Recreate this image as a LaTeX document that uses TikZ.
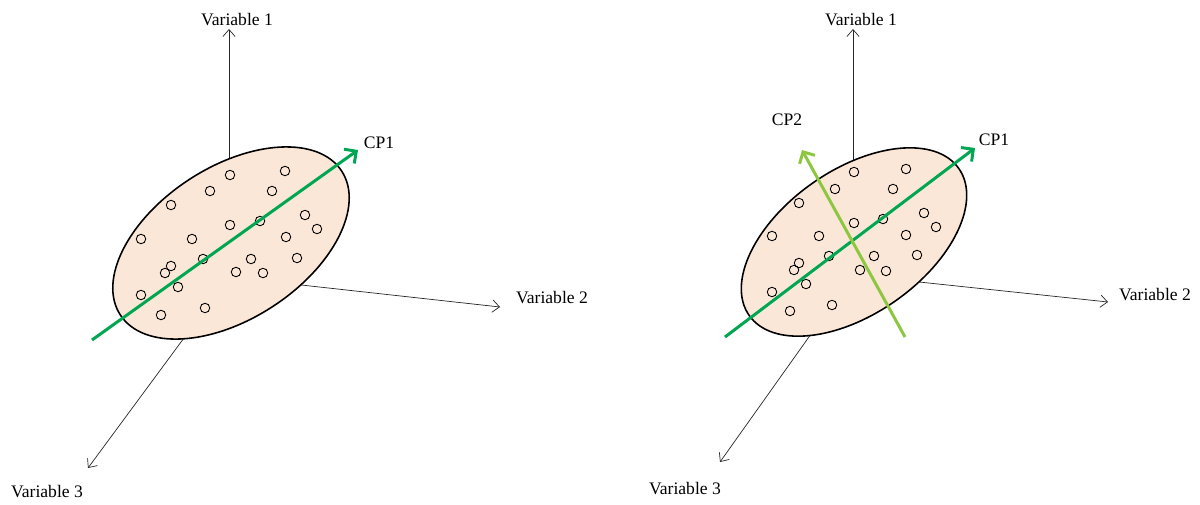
\documentclass[tikz,border=0pt]{standalone}
\usepackage{fontspec}
\setmainfont{Liberation Serif}
\usetikzlibrary{arrows.meta}
\definecolor{cpone}{RGB}{0,166,81}
\definecolor{cptwo}{RGB}{141,198,63}
\definecolor{peach}{RGB}{251,231,216}

\begin{document}
\begin{tikzpicture}[x=0.02cm,y=-0.02cm]
	\tikzstyle{axis}=[draw=black!85, line width=0.4pt, -{Straight Barb[length=4pt,width=7pt]}]
	\tikzstyle{cloud}=[draw=black, line width=0.9pt, fill=peach]
	\tikzstyle{obs}=[circle, draw=black, line width=0.5pt, inner sep=0pt, minimum size=5.4pt]
	\tikzstyle{pc}=[line width=1.7pt, -{Straight Barb[length=5pt,width=10pt]}]
	\tikzstyle{varlabel}=[inner sep=0pt, font=\normalsize]

	\useasboundingbox (0,0) rectangle (1200,504);

	% left: first component only
	\coordinate (oL) at (229,277);
	\coordinate (aL1) at (229,29);
	\coordinate (aL2) at (500,307);
	\coordinate (aL3) at (88,468);
	\node [varlabel] (v1L) at (237,20) {Variable 1};
	\node [varlabel] (v2L) at (552,298) {Variable 2};
	\node [varlabel] (v3L) at (47,492) {Variable 3};

	\path[axis] (oL) -- (aL1);
	\path[axis] (oL) -- (aL2);
	\path[axis] (oL) -- (aL3);

	\path[cloud, rotate around={33:(231,243)}] (231,243) ellipse [x radius=132, y radius=76];

	\foreach \x/\y in {230/175,285/171,210/191,272/191,171/205,230/225,260/221,305/215,
		317/229,141/239,192/239,286/237,203/259,251/259,297/258,171/266,165/273,
		236/272,263/273,178/287,141/295,205/308,161/315}
		\node [obs] at (\x,\y) {};

	\coordinate (cL1s) at (92,340);
	\coordinate (cL1e) at (358,150);
	\path[pc, draw=cpone] (cL1s) -- (cL1e);
	\node [varlabel] (pL1) at (379,143) {CP1};

	% right: first and second components
	\coordinate (oR) at (853,275);
	\coordinate (aR1) at (853,29);
	\coordinate (aR2) at (1108,302);
	\coordinate (aR3) at (720,462);
	\node [varlabel] (v1R) at (861,20) {Variable 1};
	\node [varlabel] (v2R) at (1155,295) {Variable 2};
	\node [varlabel] (v3R) at (685,489) {Variable 3};

	\path[axis] (oR) -- (aR1);
	\path[axis] (oR) -- (aR2);
	\path[axis] (oR) -- (aR3);

	\path[cloud, rotate around={35:(854,242)}] (854,242) ellipse [x radius=128, y radius=72];

	\foreach \x/\y in {854/172,906/169,835/189,893/189,799/203,854/223,883/219,924/213,
		936/227,772/236,819/236,906/235,829/256,874/256,917/255,799/263,794/270,
		860/270,886/271,806/284,772/292,832/305,790/311}
		\node [obs] at (\x,\y) {};

	\coordinate (cR1s) at (725,337);
	\coordinate (cR1e) at (975,148);
	\coordinate (cR2s) at (905,337);
	\coordinate (cR2e) at (802,150);
	\path[pc, draw=cpone] (cR1s) -- (cR1e);
	\path[pc, draw=cptwo] (cR2s) -- (cR2e);
	\node [varlabel] (pR1) at (994,140) {CP1};
	\node [varlabel] (pR2) at (787,120) {CP2};

\end{tikzpicture}
\end{document}
